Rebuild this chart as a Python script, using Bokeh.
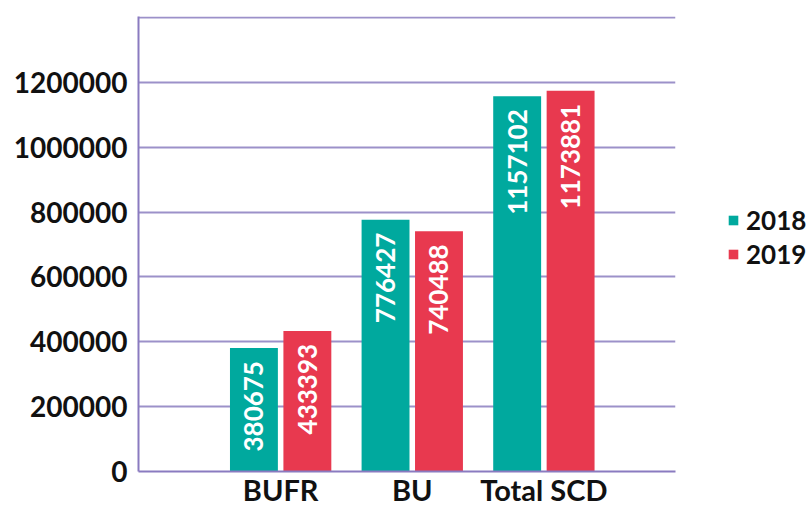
import math
from bokeh.plotting import figure
from bokeh.models import ColumnDataSource, Range1d, FixedTicker, Legend, LegendItem
from bokeh.core.properties import value
from bokeh.embed import file_html
from bokeh.resources import INLINE

categories = ["BUFR", "BU", "Total SCD"]
years = ["2018", "2019"]
v2018 = [380675, 776427, 1157102]
v2019 = [433393, 740488, 1173881]
y_ticks = [0, 200000, 400000, 600000, 800000, 1000000, 1200000, 1400000]
y_labels = ["0", "200000", "400000", "600000", "800000", "1000000", "1200000", ""]

TEAL = "#00a99e"
RED = "#e8394f"
GRID = "#9c91c9"
AXIS = "#8a7bc0"
FONT = "Lato"

idx = list(range(len(categories)))
off = 0.203
bw = 0.364

src18 = ColumnDataSource(dict(x=[i - off for i in idx], top=v2018, lab=[str(v) for v in v2018]))
src19 = ColumnDataSource(dict(x=[i + off for i in idx], top=v2019, lab=[str(v) for v in v2019]))

p = figure(frame_width=537, frame_height=455,
           x_range=Range1d(-1.08, 3.0), y_range=Range1d(0, 1403000),
           output_backend="svg", toolbar_location=None,
           min_border_left=138, min_border_right=132, min_border_top=16, min_border_bottom=0)
p.outline_line_color = None
p.background_fill_color = "white"
p.border_fill_color = "white"

r18 = p.vbar(x="x", top="top", width=bw, bottom=0, source=src18, fill_color=TEAL, line_color=None)
r19 = p.vbar(x="x", top="top", width=bw, bottom=0, source=src19, fill_color=RED, line_color=None)

for src in (src18, src19):
    p.text(x="x", y="top", text="lab", source=src, angle=math.pi / 2,
           text_align="right", text_baseline="middle", y_offset=13,
           text_color="white", text_font=value(FONT), text_font_style="bold",
           text_font_size="26px")

# axes
p.xaxis.ticker = FixedTicker(ticks=idx)
p.xaxis.major_label_overrides = {i: c for i, c in zip(idx, categories)}
p.yaxis.ticker = FixedTicker(ticks=y_ticks)
p.yaxis.major_label_overrides = {t: l for t, l in zip(y_ticks, y_labels)}
for ax in (p.xaxis, p.yaxis):
    ax.axis_line_color = AXIS
    ax.axis_line_width = 2
    ax.major_tick_line_color = None
    ax.minor_tick_line_color = None
    ax.major_tick_out = 0
    ax.major_tick_in = 0
    ax.major_label_text_font = FONT
    ax.major_label_text_font_style = "bold"
    ax.major_label_text_color = "#111111"
p.yaxis.major_label_text_font_size = "28px"
p.xaxis.major_label_text_font_size = "29px"
p.yaxis.major_label_standoff = 11
p.xaxis.major_label_standoff = 0

p.xgrid.grid_line_color = None
p.ygrid.grid_line_color = GRID
p.ygrid.grid_line_width = 2
p.ygrid.ticker = FixedTicker(ticks=y_ticks)

legend = Legend(items=[LegendItem(label=years[0], renderers=[r18]),
                       LegendItem(label=years[1], renderers=[r19])],
                location=(52, 201))
legend.glyph_width = 12
legend.glyph_height = 12
legend.label_standoff = 7
legend.spacing = 2
legend.padding = 0
legend.margin = 0
legend.border_line_color = None
legend.background_fill_alpha = 0
legend.label_text_font = FONT
legend.label_text_font_style = "bold"
legend.label_text_font_size = "26px"
legend.label_text_color = "#111111"
p.add_layout(legend, "right")

open("out.html", "w").write(file_html(p, INLINE))
